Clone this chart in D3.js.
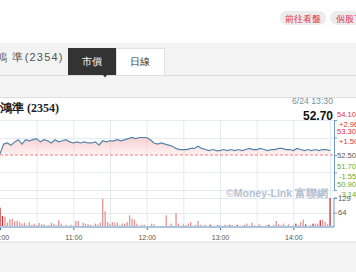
<!DOCTYPE html>
<meta charset="utf-8">
<script src="https://cdn.jsdelivr.net/npm/d3@7"></script>
<style>
  body { margin: 0; background: #f4f4f4; }
  svg { display: block; font-family: "Liberation Sans", Arial, sans-serif; }
</style>
<body>
<script>

// header info
var stockName = "鴻準",
    stockCode = "2354",
    lastTime = "6/24 13:30",
    lastPrice = 52.70,
    prevClose = 52.50;

// right axis
var priceTicks = [54.10, 53.30, 52.50, 51.70, 50.90];
var pctLabels = ["+2.96", "+1.50", "", "-1.55", "-3.14"];
var volTicks = [129, 64];
var timeLabels = ["10:00", "11:00", "12:00", "13:00", "14:00"];

// price every 3 minutes from 10:00
var prices = [
  52.55, 53.00, 53.05, 52.95, 53.10, 53.20, 53.00, 53.20, 53.15, 53.20,
  53.25, 53.10, 53.20, 53.15, 53.05, 53.20, 53.10, 53.15, 53.20, 53.10,
  53.05, 53.10, 53.05, 53.10, 53.05, 53.05, 53.10, 52.95, 53.15, 53.10,
  53.15, 53.15, 53.20, 53.15, 53.20, 53.25, 53.30, 53.25, 53.30, 53.30,
  53.30, 53.20, 53.05, 53.00, 53.05, 53.00, 52.95, 52.90, 52.80, 52.75,
  52.75, 52.75, 52.80, 52.80, 52.90, 52.80, 52.75, 52.70, 52.75, 52.70,
  52.70, 52.75, 52.70, 52.75, 52.70, 52.75, 52.70, 52.75, 52.80, 52.75,
  52.75, 52.80, 52.75, 52.70, 52.75, 52.75, 52.80, 52.80, 52.75, 52.75,
  52.70, 52.80, 52.75, 52.70, 52.75, 52.70, 52.75, 52.70, 52.75, 52.75,
  52.70
];

// volume every 2 minutes from 10:00
var volumes = [
  86, 49, 45, 20, 34, 37, 25, 28, 22, 15, 19, 8, 22, 10, 15, 8, 18, 12, 12, 6,
  8, 19, 15, 8, 30, 15, 5, 10, 4, 10, 6, 27, 27, 5, 19, 15, 12, 10, 6, 15,
  12, 19, 126, 70, 22, 15, 22, 19, 19, 8, 15, 15, 22, 52, 37, 33, 15, 4, 10, 10,
  3, 4, 15, 12, 4, 3, 5, 4, 52, 6, 15, 5, 62, 15, 4, 12, 8, 15, 22, 6,
  10, 27, 10, 6, 10, 4, 10, 5, 4, 8, 6, 4, 10, 6, 10, 8, 4, 10, 6, 4,
  8, 15, 6, 19, 8, 4, 12, 6, 4, 8, 10, 4, 10, 27, 12, 8, 15, 6, 12, 4,
  6, 15, 8, 22, 33, 12, 4, 8, 15, 15, 15, 30, 33, 22, 12, 129
];

var width = 356, height = 272;

var svg = d3.select("body").append("svg")
    .attr("width", width)
    .attr("height", height);

// ---- page chrome ----
svg.append("rect").attr("width", width).attr("height", 43).attr("fill", "#fff");

svg.append("rect").attr("x", 280).attr("y", 11).attr("width", 46).attr("height", 14)
    .attr("rx", 7).attr("fill", "#ececec");
svg.append("text").attr("x", 303).attr("y", 21.5).attr("text-anchor", "middle")
    .style("font-size", "9px").attr("fill", "#e0303a").text("前往看盤");
svg.append("rect").attr("x", 330).attr("y", 11).attr("width", 46).attr("height", 14)
    .attr("rx", 7).attr("fill", "#ececec");
svg.append("text").attr("x", 336).attr("y", 21.5)
    .style("font-size", "9px").attr("fill", "#e0303a").text("個股下載");

svg.append("rect").attr("y", 43).attr("width", width).attr("height", 32).attr("fill", "#f3f3f3");
svg.append("line").attr("x1", 0).attr("x2", width).attr("y1", 75.5).attr("y2", 75.5)
    .attr("stroke", "#dcdcdc");

svg.append("text").attr("x", -4).attr("y", 61)
    .style("font-size", "11px").style("letter-spacing", "1.2px")
    .attr("fill", "#555").text("鴻 準(" + stockCode + ")");

svg.append("rect").attr("x", 68).attr("y", 48).attr("width", 48).attr("height", 27).attr("fill", "#333");
svg.append("text").attr("x", 92).attr("y", 65).attr("text-anchor", "middle")
    .style("font-size", "10px").attr("fill", "#fff").text("市價");
svg.append("path").attr("d", "M103,75 L107,75 L105,77.5 Z").attr("fill", "#333");

svg.append("rect").attr("x", 116.5).attr("y", 48.5).attr("width", 48).attr("height", 27)
    .attr("fill", "#fff").attr("stroke", "#e0e0e0");
svg.append("text").attr("x", 140).attr("y", 65).attr("text-anchor", "middle")
    .style("font-size", "10px").attr("fill", "#333").text("日線");

// chart panel
svg.append("rect").attr("x", -1).attr("y", 97.5).attr("width", width + 2).attr("height", 144.5)
    .attr("fill", "#fff").attr("stroke", "#dedede");

// ---- scales ----
var x = d3.scaleLinear().domain([0, 270]).range([0, 330]);
var y = d3.scaleLinear().domain([50.90, 54.10]).range([190, 120]);
var yv = d3.scaleLinear().domain([0, 129]).range([227, 198]);
var axisX = 334;

// grid
var grid = svg.append("g").attr("stroke", "#e4eaf2").attr("stroke-width", 1);
d3.range(30, 271, 30).forEach(function(m) {
  grid.append("line").attr("x1", x(m) + 0.5).attr("x2", x(m) + 0.5)
      .attr("y1", 120).attr("y2", 227);
});
priceTicks.forEach(function(p) {
  if (p === prevClose) return;
  grid.append("line").attr("x1", 0).attr("x2", axisX)
      .attr("y1", Math.round(y(p)) + 0.5).attr("y2", Math.round(y(p)) + 0.5);
});
volTicks.forEach(function(v) {
  grid.append("line").attr("x1", 0).attr("x2", axisX)
      .attr("y1", Math.round(yv(v)) + 0.5).attr("y2", Math.round(yv(v)) + 0.5);
});

// watermark
svg.append("text").attr("x", 226).attr("y", 197)
    .style("font-size", "10.5px").style("font-weight", 700)
    .attr("fill", "#b4c2d0").text("©Money-Link 富聯網");

// ---- price ----
var pts = prices.map(function(p, i) { return { m: i * 3, p: p }; });

var defs = svg.append("defs");
var grad = defs.append("linearGradient").attr("id", "pfill")
    .attr("x1", 0).attr("y1", 0).attr("x2", 0).attr("y2", 1);
grad.append("stop").attr("offset", "0%").attr("stop-color", "#f7a8a8").attr("stop-opacity", 0.55);
grad.append("stop").attr("offset", "100%").attr("stop-color", "#fbd6d6").attr("stop-opacity", 0.35);

svg.append("path")
    .datum(pts)
    .attr("fill", "url(#pfill)")
    .attr("d", d3.area()
        .x(function(d) { return x(d.m); })
        .y0(y(prevClose))
        .y1(function(d) { return y(d.p); }));

svg.append("line")
    .attr("x1", 0).attr("x2", axisX)
    .attr("y1", y(prevClose)).attr("y2", y(prevClose))
    .attr("stroke", "#ef7f7f").attr("stroke-width", 1.2)
    .attr("stroke-dasharray", "3,2");

svg.append("path")
    .datum(pts)
    .attr("fill", "none")
    .attr("stroke", "#5584ab")
    .attr("stroke-width", 1.2)
    .attr("d", d3.line()
        .x(function(d) { return x(d.m); })
        .y(function(d) { return y(d.p); }));

// ---- volume ----
svg.append("g").selectAll("rect")
    .data(volumes)
    .enter().append("rect")
    .attr("x", function(d, i) { return x(i * 2) - 0.6; })
    .attr("width", 1.3)
    .attr("y", function(d) { return yv(d); })
    .attr("height", function(d) { return yv(0) - yv(d); })
    .attr("fill", function(d, i) {
      var p = prices[Math.min(Math.floor(i * 2 / 3), prices.length - 1)];
      return p >= lastPrice + 0.05 ? "#e29494" : "#c8383c";
    });

// ---- x axis ----
var xAxis = svg.append("g")
    .attr("transform", "translate(0,227)")
    .call(d3.axisBottom(x)
        .tickValues([0, 60, 120, 180, 240])
        .tickSize(3)
        .tickFormat(function(d, i) { return timeLabels[i]; }));
xAxis.select(".domain").remove();
xAxis.selectAll(".tick line").attr("stroke", "#3f6f99");
xAxis.selectAll(".tick text").attr("fill", "#555").attr("dy", "0.95em")
    .style("font-family", "Liberation Sans, Arial, sans-serif").style("font-size", "7px");
svg.append("line").attr("x1", 0).attr("x2", axisX).attr("y1", 227).attr("y2", 227)
    .attr("stroke", "#a9c4dc").attr("stroke-width", 2);

// ---- right axes ----
var rAxis = svg.append("g")
    .attr("transform", "translate(" + axisX + ",0)")
    .call(d3.axisRight(y).tickValues(priceTicks).tickSize(3).tickSizeOuter(0).tickFormat(""));
rAxis.selectAll("path, line").attr("stroke", "#6f9cc4");

var vAxis = svg.append("g")
    .attr("transform", "translate(" + axisX + ",0)")
    .call(d3.axisRight(yv).tickValues(volTicks).tickSize(3).tickSizeOuter(0).tickFormat(""));
vAxis.selectAll("path, line").attr("stroke", "#6f9cc4");
vAxis.select(".domain").attr("d", "M3,198H0V227");

function labelColor(p) {
  return p > prevClose ? "#d9343a" : (p < prevClose ? "#6aa82b" : "#555");
}

priceTicks.forEach(function(p, i) {
  var yy = y(p);
  var pct = pctLabels[i];
  svg.append("text")
      .attr("x", 337).attr("y", pct ? yy - 6 : yy).attr("dy", "0.35em")
      .style("font-size", "7.6px").attr("fill", labelColor(p))
      .text(p.toFixed(2));
  if (pct) {
    svg.append("text")
        .attr("x", 339).attr("y", yy + 4).attr("dy", "0.35em")
        .style("font-size", "7.6px").attr("fill", labelColor(p))
        .text(pct);
  }
});

volTicks.forEach(function(v) {
  svg.append("text")
      .attr("x", 338).attr("y", yv(v)).attr("dy", "0.35em")
      .style("font-size", "7.6px").attr("fill", "#555")
      .text(v);
});

// ---- chart title & last price ----
svg.append("text").attr("x", 0).attr("y", 112)
    .style("font-family", "Liberation Serif, serif").style("font-weight", 700)
    .style("font-size", "12px").attr("fill", "#222")
    .text(stockName + " (" + stockCode + ")");

svg.append("text").attr("x", 333).attr("y", 104).attr("text-anchor", "end")
    .style("font-size", "8.7px").attr("fill", "#7b8fa3").text(lastTime);
svg.append("text").attr("x", 333).attr("y", 119.5).attr("text-anchor", "end")
    .style("font-size", "12px").style("font-weight", 700).attr("fill", "#111")
    .text(lastPrice.toFixed(2));

</script>
</body>
